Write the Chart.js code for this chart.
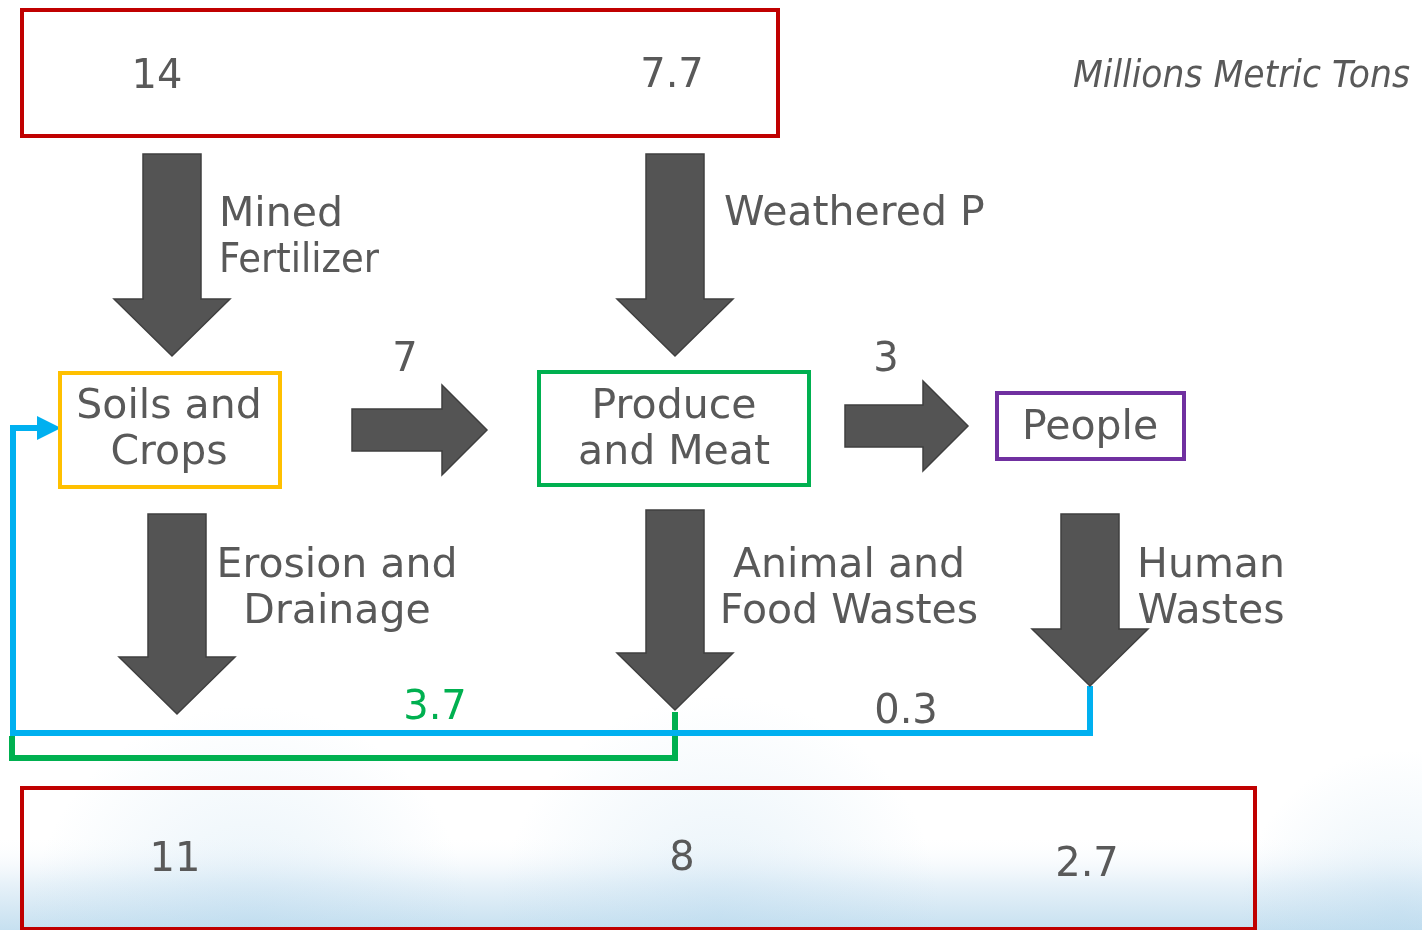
<!DOCTYPE html>
<html>
<head>
<meta charset="utf-8">
<script src="https://cdn.jsdelivr.net/npm/chart.js@4.4.1/dist/chart.umd.min.js"></script>
<style>
  html, body { margin: 0; padding: 0; background: #fff; }
  #wrap { width: 1422px; height: 930px; }
</style>
</head>
<body>
<div id="wrap"><canvas id="flowChart" width="1422" height="930"></canvas></div>
<script>
// Phosphorus flows, millions of metric tons
const sourceNames = ['Mined\nFertilizer', 'Weathered P'];
const sourceValues = [14, 7.7];
const stockNames = ['Soils and\nCrops', 'Produce\nand Meat', 'People'];
const transferValues = [7, 3];
const lossNames = ['Erosion and\nDrainage', 'Animal and\nFood Wastes', 'Human\nWastes'];
const lossValues = [11, 8, 2.7];
const recycledValues = [3.7, 0.3];
const unitLabel = 'Millions Metric Tons';

const FONT = '"DejaVu Sans", "Noto Sans", sans-serif';
const TEXT = '#595959';
const ARROW_FILL = '#545454';
const ARROW_EDGE = '#3f3f3f';

// diagram layout in axis units (x 0..1422, y 0..930 from the top)
const layout = {
  topBox: [22, 10, 778, 136],
  bottomBox: [22, 788, 1255, 929],
  sourceValuePos: [[157, 75], [672, 74]],
  sourceArrows: [172, 675],
  sourceNamePos: [[219, 212, 'left', 160], [724, 211, 'left', 280]],
  stockBoxes: [[60, 373, 280, 487, '#FFC000'], [539, 372, 809, 485, '#00B050'], [997, 393, 1184, 459, '#7030A0']],
  stockNamePos: [[169, 404], [674, 404], [1090, 425]],
  transferArrows: [[352, 430, 487], [845, 426, 968]],
  transferValuePos: [[405, 358], [886, 358]],
  lossArrows: [[177, 514, 714], [675, 510, 710], [1090, 514, 686]],
  lossNamePos: [[337, 563], [849, 563], [1211, 563]],
  lossValuePos: [[175, 858], [682, 857], [1087, 863]],
  recycledValuePos: [[435, 706, '#00B050'], [906, 710, TEXT]],
  blueRoute: [[1090, 686], [1090, 733], [13, 733], [13, 428], [40, 428]],
  greenRoute: [[675, 712], [675, 758], [12, 758], [12, 736]]
};

function fmt(v) { return String(v); }

const diagramPlugin = {
  id: 'phosphorusDiagram',
  beforeDraw(chart) {
    const { ctx, width, height } = chart;
    ctx.save();
    ctx.fillStyle = '#ffffff';
    ctx.fillRect(0, 0, width, height);
    // pale sky haze along the bottom edge
    const g = ctx.createLinearGradient(0, 835, 0, height);
    g.addColorStop(0, 'rgba(255,255,255,0)');
    g.addColorStop(0.5, 'rgba(232,242,249,1)');
    g.addColorStop(1, 'rgba(198,224,240,1)');
    ctx.fillStyle = g;
    ctx.fillRect(0, 835, width, height - 835);
    [[720, 915, 220], [1400, 910, 160], [250, 925, 220]].forEach(([cx, cy, r]) => {
      const rg = ctx.createRadialGradient(cx, cy, 0, cx, cy, r);
      rg.addColorStop(0, 'rgba(175,212,236,0.3)');
      rg.addColorStop(1, 'rgba(175,212,236,0)');
      ctx.fillStyle = rg;
      ctx.fillRect(cx - r, cy - r, 2 * r, 2 * r);
    });
    ctx.restore();
  },
  afterDatasetsDraw(chart) {
    const { ctx } = chart;
    const sx = v => chart.scales.x.getPixelForValue(v);
    const sy = v => chart.scales.y.getPixelForValue(v);

    const box = (b, color) => {
      ctx.save();
      ctx.strokeStyle = color;
      ctx.lineWidth = 4;
      ctx.strokeRect(sx(b[0]), sy(b[1]), sx(b[2]) - sx(b[0]), sy(b[3]) - sy(b[1]));
      ctx.restore();
    };

    const text = (str, x, y, opts = {}) => {
      ctx.save();
      ctx.font = (opts.style || '') + ' ' + (opts.size || 41) + 'px ' + FONT;
      ctx.fillStyle = opts.color || TEXT;
      ctx.textAlign = opts.align || 'center';
      ctx.textBaseline = 'middle';
      str.split('\n').forEach((line, i) => {
        const py = sy(y + 3 + i * 46);
        if (opts.maxWidth) ctx.fillText(line, sx(x), py, opts.maxWidth);
        else ctx.fillText(line, sx(x), py);
      });
      ctx.restore();
    };

    const poly = pts => {
      ctx.beginPath();
      pts.forEach(([x, y], i) => i ? ctx.lineTo(sx(x), sy(y)) : ctx.moveTo(sx(x), sy(y)));
      ctx.closePath();
      ctx.fillStyle = ARROW_FILL;
      ctx.fill();
      ctx.strokeStyle = ARROW_EDGE;
      ctx.lineWidth = 1.5;
      ctx.stroke();
    };

    const downArrow = (cx, top, tip) => {
      const headBase = tip - 57;
      poly([[cx - 29, top], [cx + 29, top], [cx + 29, headBase], [cx + 58, headBase],
            [cx, tip], [cx - 58, headBase], [cx - 29, headBase]]);
    };

    const rightArrow = (left, cy, tip) => {
      const headBase = tip - 45;
      poly([[left, cy - 21], [headBase, cy - 21], [headBase, cy - 45], [tip, cy],
            [headBase, cy + 45], [headBase, cy + 21], [left, cy + 21]]);
    };

    const route = (pts, color) => {
      ctx.save();
      ctx.strokeStyle = color;
      ctx.lineWidth = 6;
      ctx.lineJoin = 'miter';
      ctx.beginPath();
      pts.forEach(([x, y], i) => i ? ctx.lineTo(sx(x), sy(y)) : ctx.moveTo(sx(x), sy(y)));
      ctx.stroke();
      ctx.restore();
    };

    // recycling routes back to the soil
    route(layout.greenRoute, '#00B050');
    route(layout.blueRoute, '#00B0F0');
    ctx.save();
    ctx.fillStyle = '#00B0F0';
    ctx.beginPath();
    ctx.moveTo(sx(37), sy(416));
    ctx.lineTo(sx(61), sy(428));
    ctx.lineTo(sx(37), sy(440));
    ctx.closePath();
    ctx.fill();
    ctx.restore();

    // reservoirs
    box(layout.topBox, '#C00000');
    box(layout.bottomBox, '#C00000');
    layout.stockBoxes.forEach(b => box(b, b[4]));

    // arrows
    layout.sourceArrows.forEach(cx => downArrow(cx, 154, 356));
    layout.transferArrows.forEach(([l, cy, tip]) => rightArrow(l, cy, tip));
    layout.lossArrows.forEach(([cx, top, tip]) => downArrow(cx, top, tip));

    // labels and values
    text(unitLabel, 1410, 74, { align: 'right', style: 'italic', size: 37, maxWidth: 337 });
    sourceValues.forEach((v, i) => text(fmt(v), ...layout.sourceValuePos[i], { size: 40 }));
    sourceNames.forEach((n, i) => {
      const [x, y, align, maxWidth] = layout.sourceNamePos[i];
      text(n, x, y, { align, maxWidth });
    });
    stockNames.forEach((n, i) => text(n, ...layout.stockNamePos[i]));
    transferValues.forEach((v, i) => text(fmt(v), ...layout.transferValuePos[i], { size: 40 }));
    lossNames.forEach((n, i) => text(n, ...layout.lossNamePos[i]));
    lossValues.forEach((v, i) => text(fmt(v), ...layout.lossValuePos[i], { size: 40 }));
    recycledValues.forEach((v, i) => {
      const [x, y, color] = layout.recycledValuePos[i];
      text(fmt(v), x, y, { size: 40, color });
    });
  }
};

new Chart(document.getElementById('flowChart').getContext('2d'), {
  type: 'scatter',
  data: { datasets: [{ data: [], pointRadius: 0 }] },
  options: {
    responsive: false,
    animation: false,
    devicePixelRatio: 1,
    layout: { padding: 0 },
    plugins: { legend: { display: false }, tooltip: { enabled: false } },
    scales: {
      x: { type: 'linear', min: 0, max: 1422, display: false },
      y: { type: 'linear', min: 0, max: 930, reverse: true, display: false }
    }
  },
  plugins: [diagramPlugin]
});
</script>
</body>
</html>
